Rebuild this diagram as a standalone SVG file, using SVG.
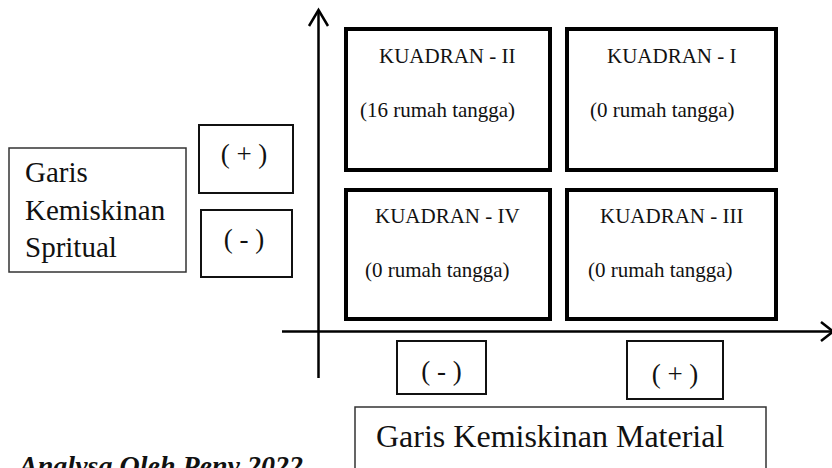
<svg xmlns="http://www.w3.org/2000/svg" width="832" height="468" viewBox="0 0 832 468">
<style>
text{font-family:"Liberation Serif","Times New Roman",serif;fill:#111}
.q{fill:#fff;stroke:#000;stroke-width:4}
.s{fill:#fff;stroke:#111;stroke-width:2}
.t{fill:#fff;stroke:#333;stroke-width:1.5}
.qt{font-size:21px}
.pm{font-size:27px;text-anchor:middle}
.ax{stroke:#000;stroke-width:2.5;fill:none}
</style>
<rect width="832" height="468" fill="#fff"/>
<g id="connectors">
<path class="ax" d="M318.5,378 V10"/>
<path class="ax" d="M309,26 L318.5,10 L328,26"/>
<path class="ax" d="M282,331.5 H832"/>
<path class="ax" d="M821,322 L833,331.5 L821,341"/>
</g>
<g id="kuadran2"><rect class="q" x="346" y="29" width="204" height="141"/>
<text class="qt" x="379" y="63">KUADRAN - II</text><text class="qt" x="360" y="117">(16 rumah tangga)</text></g>
<g id="kuadran1"><rect class="q" x="567" y="29" width="209" height="141"/>
<text class="qt" x="607" y="63">KUADRAN - I</text><text class="qt" x="590" y="117">(0 rumah tangga)</text></g>
<g id="kuadran4"><rect class="q" x="346" y="190" width="204" height="129"/>
<text class="qt" x="375" y="223">KUADRAN - IV</text><text class="qt" x="365" y="277">(0 rumah tangga)</text></g>
<g id="kuadran3"><rect class="q" x="567" y="190" width="209" height="129"/>
<text class="qt" x="600" y="223">KUADRAN - III</text><text class="qt" x="588" y="277">(0 rumah tangga)</text></g>
<g id="garis-spritual"><rect class="t" x="9" y="148" width="177" height="124"/>
<text font-size="29" x="25" y="182">Garis</text><text font-size="29" x="25" y="220">Kemiskinan</text><text font-size="29" x="25" y="257">Spritual</text></g>
<g id="plus-left"><rect class="s" x="199" y="125" width="94" height="68"/><text class="pm" x="244" y="163">( + )</text></g>
<g id="minus-left"><rect class="s" x="201" y="210" width="91" height="67"/><text class="pm" x="244" y="248">( - )</text></g>
<g id="minus-bottom"><rect class="s" x="397" y="341" width="89" height="53"/><text class="pm" x="441.5" y="380">( - )</text></g>
<g id="plus-bottom"><rect class="s" x="627" y="341" width="96" height="58"/><text class="pm" x="675" y="383">( + )</text></g>
<g id="garis-material"><rect class="t" x="355" y="407" width="411" height="80"/>
<text font-size="32" x="376" y="447">Garis Kemiskinan Material</text></g>
<text font-size="28" font-weight="bold" font-style="italic" x="303" y="475" text-anchor="end">Analysa Oleh Peny 2022</text>
</svg>
